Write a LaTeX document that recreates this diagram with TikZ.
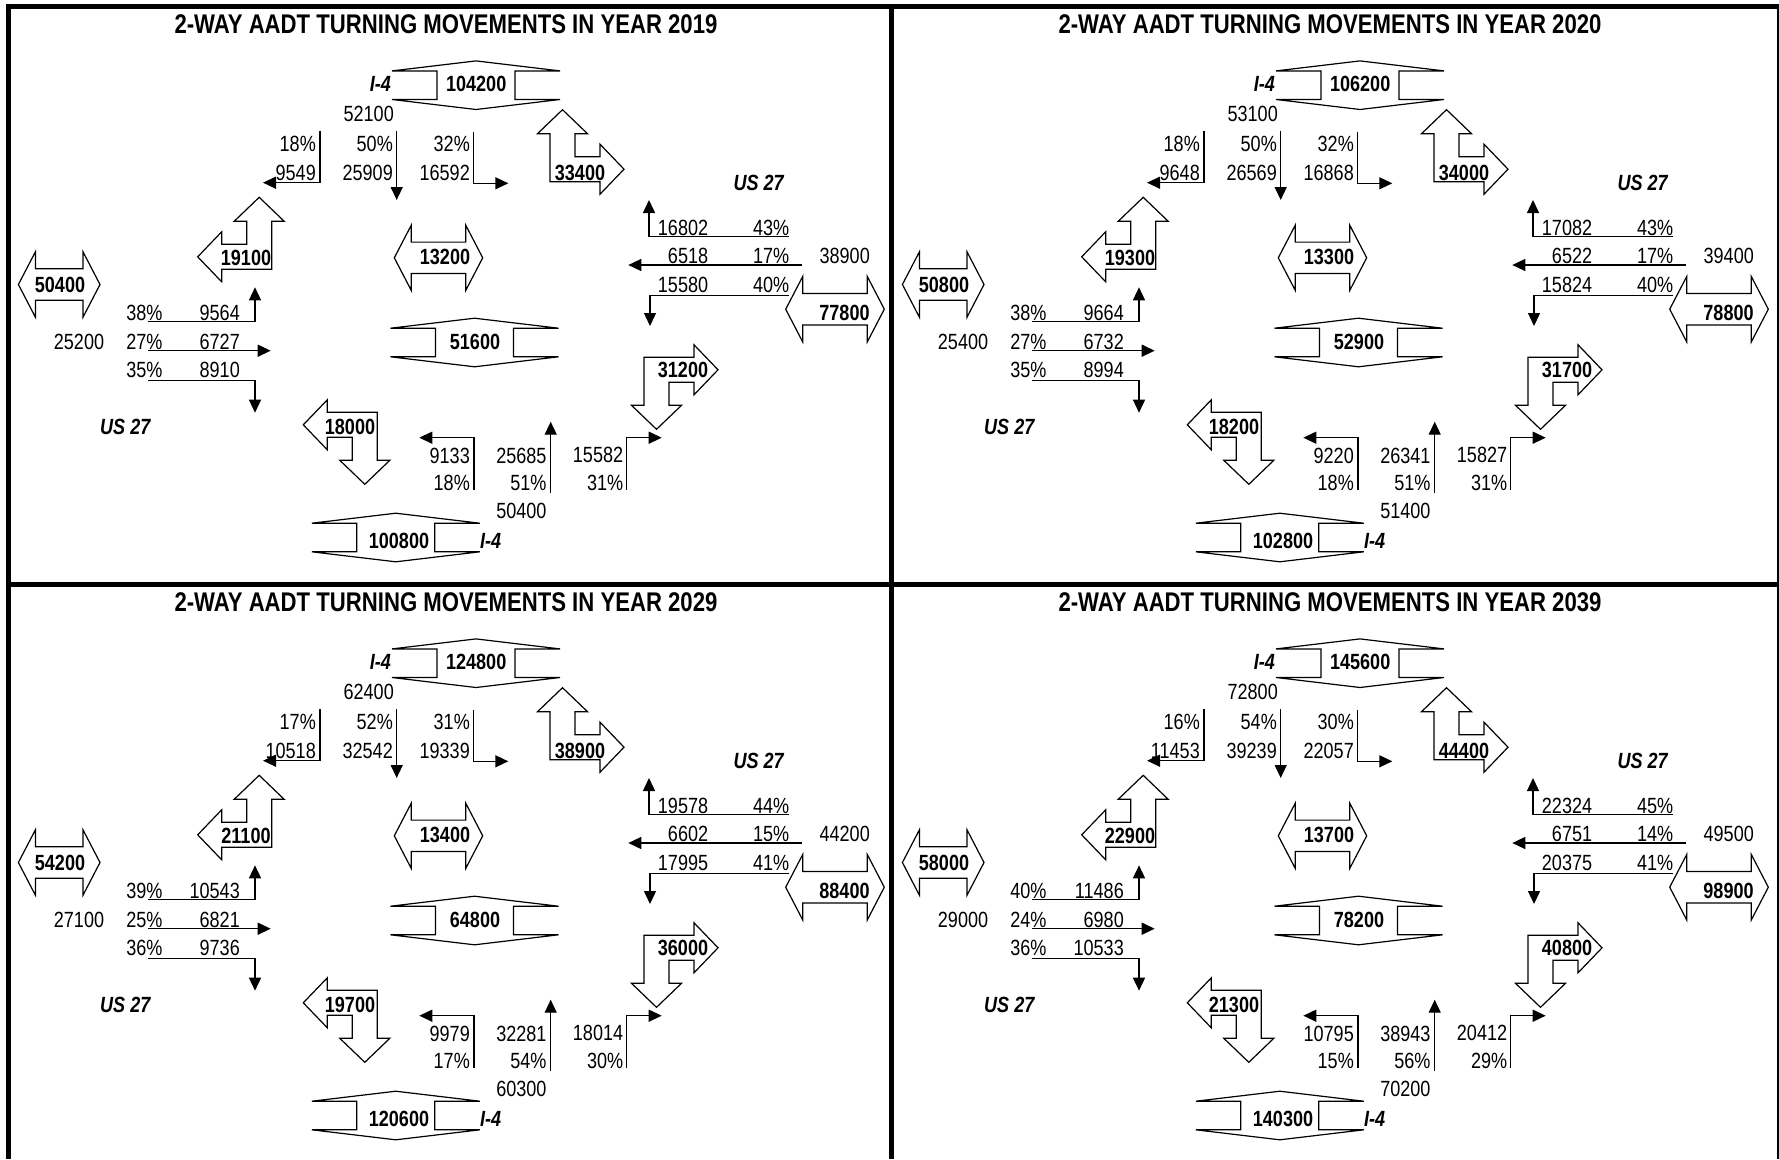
\documentclass[tikz,border=0pt]{standalone}
\usepackage{fontspec}
\setmainfont{Liberation Sans}[FakeStretch=0.82]
\usetikzlibrary{arrows.meta}

\newcommand\setp[2]{\expandafter\def\csname pv#1\endcsname{#2}}
\newcommand\gp[1]{\csname pv#1\endcsname}

\tikzset{
  shp/.style={draw=black, fill=white, line width=1.2pt, line join=miter, miter limit=6},
  mv/.style={draw=black, line width=1.4pt, -{Triangle[length=13pt,width=12pt]}},
  num/.style={inner sep=0pt, font=\fontsize{22}{24}\selectfont},
  bnum/.style={inner sep=0pt, font=\fontsize{22}{24}\selectfont\bfseries},
  hw/.style={inner sep=0pt, font=\fontsize{22}{24}\selectfont\bfseries\itshape},
  ttl/.style={inner sep=0pt, font=\fontsize{27}{30}\selectfont\bfseries},
  frm/.style={line width=5pt},
  vdbl/.pic={\draw[shp] (-84,-14.3) -- (0,-24.3) -- (84,-14.3) -- (39,-14.3) -- (39,14.3) -- (84,14.3) -- (0,24.3) -- (-84,14.3) -- (-39,14.3) -- (-39,-14.3) -- cycle;},
  hdbl/.pic={\draw[shp] (-#1,0) -- (-#1+17,-32.7) -- (-#1+17,-15.7) -- (#1-17,-15.7) -- (#1-17,-32.7) -- (#1,0) -- (#1-17,32.7) -- (#1-17,15.7) -- (-#1+17,15.7) -- (-#1+17,32.7) -- cycle;},
  lar/.pic={\draw[shp] (0,0) -- (0,-48) -- (-12.5,-48) -- (12.5,-72) -- (37.5,-48) -- (25,-48) -- (25,-25) -- (50,-25) -- (50,-37.5) -- (74,-12.5) -- (50,12.5) -- (50,0) -- cycle;},
}

\newcommand\drawpanel[3]{%
\begin{scope}[shift={(#1,#2)}, name prefix=#3-]
 \node[ttl, anchor=base] (ttl) at (446,33) {2-WAY AADT TURNING MOVEMENTS IN YEAR \gp{yr}};
 % top road
 \pic at (476,85.2) {vdbl};
 \node[bnum, anchor=base] (top) at (476.2,91.7) {\gp{top}};
 \node[hw, anchor=base east] (i4t) at (391,91.7) {I-4};
 \node[num, anchor=base east] (tq) at (394,121) {\gp{tq}};
 \node[num, anchor=base east] (ta) at (316,151) {\gp{ta}};
 \node[num, anchor=base east] (tb) at (316,180) {\gp{tb}};
 \node[num, anchor=base east] (tc) at (393,151) {\gp{tc}};
 \node[num, anchor=base east] (td) at (393,180) {\gp{td}};
 \node[num, anchor=base east] (te) at (470,151) {\gp{te}};
 \node[num, anchor=base east] (tf) at (470,180) {\gp{tf}};
 \draw[mv] (320,131) |- (263,182.7);
 \draw[mv] (396.7,131) -- (396.7,200);
 \draw[mv] (473.3,131.7) |- (508.3,183.3);
 % L arrows
 \pic at (550,181.7) {lar};
 \node[bnum, anchor=base] (ur) at (580,180) {\gp{ur}};
 \pic[xscale=-1] at (271.7,269.3) {lar};
 \node[bnum, anchor=base] (ul) at (246,265) {\gp{ul}};
 % middle
 \pic at (438.5,257.8) {hdbl=44.2};
 \node[bnum, anchor=base] (mc) at (445,264) {\gp{mc}};
 \pic at (474.5,342.5) {vdbl};
 \node[bnum, anchor=base] (mm) at (475,349.3) {\gp{mm}};
 % left road
 \pic at (59.2,284.5) {hdbl=40.8};
 \node[bnum, anchor=base] (wl) at (60,292.7) {\gp{wl}};
 \node[num, anchor=base east] (la) at (162.7,320) {\gp{la}};
 \node[num, anchor=base east] (lb) at (240,320) {\gp{lb}};
 \node[num, anchor=base east] (lt) at (104.3,349) {\gp{lt}};
 \node[num, anchor=base east] (lc) at (162.7,349) {\gp{lc}};
 \node[num, anchor=base east] (ld) at (240,349) {\gp{ld}};
 \node[num, anchor=base east] (le) at (162.7,377.3) {\gp{le}};
 \node[num, anchor=base east] (lf) at (240,377.3) {\gp{lf}};
 \draw[mv] (148.3,321.7) -| (255,287.3);
 \draw[mv] (148.3,350.7) -- (270.7,350.7);
 \draw[mv] (148.3,380.7) -| (255,412.7);
 \node[hw, anchor=base west] (usl) at (100,434) {US 27};
 % right road
 \node[hw, anchor=base west] (usr) at (733.3,190.7) {US 27};
 \node[num, anchor=base east] (ra) at (708.3,235) {\gp{ra}};
 \node[num, anchor=base east] (rb) at (789.3,235) {\gp{rb}};
 \node[num, anchor=base east] (rc) at (708.3,263.3) {\gp{rc}};
 \node[num, anchor=base east] (rd) at (789.3,263.3) {\gp{rd}};
 \node[num, anchor=base east] (rt) at (870,263.3) {\gp{rt}};
 \node[num, anchor=base east] (re) at (708.3,292.7) {\gp{re}};
 \node[num, anchor=base east] (rf) at (789.3,292.7) {\gp{rf}};
 \draw[mv] (789.3,236.7) -| (649,200);
 \draw[mv] (801.7,265) -- (628.3,265);
 \draw[mv] (789.3,295.7) -| (650,326);
 \pic at (835,309.2) {hdbl=49.3};
 \node[bnum, anchor=base] (er) at (844.5,320) {\gp{er}};
 \pic[yscale=-1] at (644,357.3) {lar};
 \node[bnum, anchor=base] (dr) at (683,377.3) {\gp{dr}};
 \pic[xscale=-1,yscale=-1] at (377.3,412.3) {lar};
 \node[bnum, anchor=base] (dl) at (350,434) {\gp{dl}};
 % bottom road
 \node[num, anchor=base east] (ba) at (470,463.3) {\gp{ba}};
 \node[num, anchor=base east] (bb) at (470,490) {\gp{bb}};
 \node[num, anchor=base east] (bc) at (546.7,463.3) {\gp{bc}};
 \node[num, anchor=base east] (bd) at (546.7,490) {\gp{bd}};
 \node[num, anchor=base east] (bt) at (546.7,518.3) {\gp{bt}};
 \node[num, anchor=base east] (be) at (623.3,462) {\gp{be}};
 \node[num, anchor=base east] (bf) at (623.3,490) {\gp{bf}};
 \draw[mv] (474,490) |- (419.3,437.7);
 \draw[mv] (550.7,492.7) -- (550.7,421.7);
 \draw[mv] (626.7,490) |- (661.7,437.7);
 \pic at (395.8,537.5) {vdbl};
 \node[bnum, anchor=base] (bp) at (399,548) {\gp{bp}};
 \node[hw, anchor=base west] (i4b) at (480,548) {I-4};
\end{scope}}

\begin{document}
\begin{tikzpicture}[x=1pt, y=-1pt]
\useasboundingbox (0,0) rectangle (1779,1159);
\fill[white] (0,0) rectangle (1779,1159);
% ---------- 2019
\setp{yr}{2019}\setp{top}{104200}\setp{tq}{52100}
\setp{ta}{18\%}\setp{tb}{9549}\setp{tc}{50\%}\setp{td}{25909}\setp{te}{32\%}\setp{tf}{16592}
\setp{ur}{33400}\setp{ul}{19100}\setp{mc}{13200}\setp{mm}{51600}\setp{wl}{50400}
\setp{la}{38\%}\setp{lb}{9564}\setp{lt}{25200}\setp{lc}{27\%}\setp{ld}{6727}\setp{le}{35\%}\setp{lf}{8910}
\setp{ra}{16802}\setp{rb}{43\%}\setp{rc}{6518}\setp{rd}{17\%}\setp{rt}{38900}\setp{re}{15580}\setp{rf}{40\%}
\setp{er}{77800}\setp{dr}{31200}\setp{dl}{18000}
\setp{ba}{9133}\setp{bb}{18\%}\setp{bc}{25685}\setp{bd}{51\%}\setp{bt}{50400}\setp{be}{15582}\setp{bf}{31\%}\setp{bp}{100800}
\drawpanel{0}{0}{p19}
% ---------- 2020
\setp{yr}{2020}\setp{top}{106200}\setp{tq}{53100}
\setp{ta}{18\%}\setp{tb}{9648}\setp{tc}{50\%}\setp{td}{26569}\setp{te}{32\%}\setp{tf}{16868}
\setp{ur}{34000}\setp{ul}{19300}\setp{mc}{13300}\setp{mm}{52900}\setp{wl}{50800}
\setp{la}{38\%}\setp{lb}{9664}\setp{lt}{25400}\setp{lc}{27\%}\setp{ld}{6732}\setp{le}{35\%}\setp{lf}{8994}
\setp{ra}{17082}\setp{rb}{43\%}\setp{rc}{6522}\setp{rd}{17\%}\setp{rt}{39400}\setp{re}{15824}\setp{rf}{40\%}
\setp{er}{78800}\setp{dr}{31700}\setp{dl}{18200}
\setp{ba}{9220}\setp{bb}{18\%}\setp{bc}{26341}\setp{bd}{51\%}\setp{bt}{51400}\setp{be}{15827}\setp{bf}{31\%}\setp{bp}{102800}
\drawpanel{884}{0}{p20}
% ---------- 2029
\setp{yr}{2029}\setp{top}{124800}\setp{tq}{62400}
\setp{ta}{17\%}\setp{tb}{10518}\setp{tc}{52\%}\setp{td}{32542}\setp{te}{31\%}\setp{tf}{19339}
\setp{ur}{38900}\setp{ul}{21100}\setp{mc}{13400}\setp{mm}{64800}\setp{wl}{54200}
\setp{la}{39\%}\setp{lb}{10543}\setp{lt}{27100}\setp{lc}{25\%}\setp{ld}{6821}\setp{le}{36\%}\setp{lf}{9736}
\setp{ra}{19578}\setp{rb}{44\%}\setp{rc}{6602}\setp{rd}{15\%}\setp{rt}{44200}\setp{re}{17995}\setp{rf}{41\%}
\setp{er}{88400}\setp{dr}{36000}\setp{dl}{19700}
\setp{ba}{9979}\setp{bb}{17\%}\setp{bc}{32281}\setp{bd}{54\%}\setp{bt}{60300}\setp{be}{18014}\setp{bf}{30\%}\setp{bp}{120600}
\drawpanel{0}{578}{p29}
% ---------- 2039
\setp{yr}{2039}\setp{top}{145600}\setp{tq}{72800}
\setp{ta}{16\%}\setp{tb}{11453}\setp{tc}{54\%}\setp{td}{39239}\setp{te}{30\%}\setp{tf}{22057}
\setp{ur}{44400}\setp{ul}{22900}\setp{mc}{13700}\setp{mm}{78200}\setp{wl}{58000}
\setp{la}{40\%}\setp{lb}{11486}\setp{lt}{29000}\setp{lc}{24\%}\setp{ld}{6980}\setp{le}{36\%}\setp{lf}{10533}
\setp{ra}{22324}\setp{rb}{45\%}\setp{rc}{6751}\setp{rd}{14\%}\setp{rt}{49500}\setp{re}{20375}\setp{rf}{41\%}
\setp{er}{98900}\setp{dr}{40800}\setp{dl}{21300}
\setp{ba}{10795}\setp{bb}{15\%}\setp{bc}{38943}\setp{bd}{56\%}\setp{bt}{70200}\setp{be}{20412}\setp{bf}{29\%}\setp{bp}{140300}
\drawpanel{884}{578}{p39}
% ---------- frame
\draw[frm] (8.5,1159) -- (8.5,6.5) -- (1779,6.5);
\draw[line width=2.5pt] (1778,6.5) -- (1778,1159);
\draw[frm] (891.5,6.5) -- (891.5,1159);
\draw[frm] (8.5,584) -- (1779,584);
\end{tikzpicture}
\end{document}
